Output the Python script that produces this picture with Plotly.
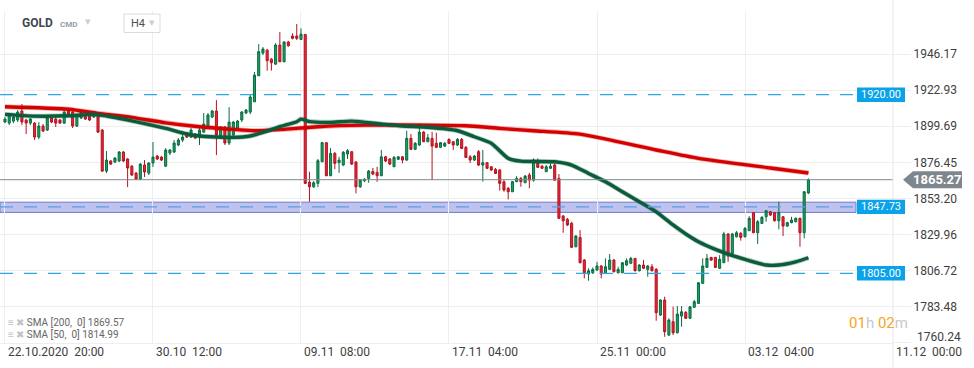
import plotly.graph_objects as go

# ---------------- data ----------------
opens = [1902.4, 1901.7, 1903.0, 1903.7, 1909.5, 1903.7, 1901.7, 1901.7, 1892.7, 1899.8,
         1897.2, 1905.0, 1904.3, 1903.7, 1901.7, 1909.5, 1908.8, 1899.8, 1905.0, 1906.9,
         1906.9, 1905.6, 1906.2, 1897.2, 1870.8, 1877.3, 1876.6, 1877.3, 1883.1, 1878.6,
         1874.0, 1869.5, 1865.7, 1874.7, 1869.5, 1876.0, 1880.5, 1879.8, 1874.0, 1882.4,
         1883.1, 1887.6, 1890.8, 1895.3, 1892.7, 1894.7, 1892.7, 1895.9, 1899.2, 1905.6,
         1909.5, 1893.4, 1899.2, 1888.9, 1894.0, 1898.5, 1903.7, 1908.2, 1908.8, 1915.4,
         1932.2, 1946.8, 1948.7, 1942.9, 1939.7, 1952.0, 1941.2, 1953.9, 1957.8, 1957.8,
         1955.6, 1958.8, 1863.7, 1860.7, 1862.9, 1876.8, 1889.1, 1867.8, 1882.2, 1876.2,
         1874.7, 1881.8, 1883.3, 1876.6, 1860.7, 1864.6, 1866.1, 1870.6, 1870.0, 1867.8,
         1880.0, 1878.6, 1873.6, 1878.4, 1880.0, 1877.9, 1891.9, 1884.8, 1887.6, 1895.9,
         1889.7, 1891.9, 1888.7, 1886.1, 1886.9, 1891.2, 1889.7, 1887.6, 1891.2, 1886.1,
         1880.0, 1877.9, 1883.3, 1874.7, 1876.2, 1873.6, 1871.9, 1871.5, 1863.9, 1859.7,
         1857.5, 1864.0, 1866.1, 1863.3, 1868.3, 1865.0, 1876.2, 1874.0, 1870.4, 1872.6,
         1874.7, 1866.1, 1841.9, 1839.7, 1837.2, 1822.1, 1828.1, 1813.5, 1804.5, 1805.3,
         1807.1, 1809.7, 1805.0, 1807.5, 1813.5, 1805.3, 1805.3, 1810.3, 1811.4, 1814.6,
         1806.6, 1810.3, 1807.5, 1809.2, 1807.5, 1778.1, 1787.8, 1765.2, 1773.8, 1766.7,
         1777.5, 1779.8, 1776.0, 1783.1, 1785.6, 1798.5, 1808.8, 1815.2, 1815.2, 1808.2,
         1811.8, 1830.3, 1817.8, 1828.5, 1830.7, 1828.5, 1832.4, 1844.0, 1831.1, 1837.1,
         1841.4, 1844.6, 1844.0, 1838.8, 1841.4, 1835.4, 1837.6, 1838.2, 1840.4, 1831.1,
         1856.7]
highs = [1905.6, 1908.2, 1906.9, 1910.1, 1914.0, 1904.3, 1905.0, 1902.4, 1902.4, 1901.1,
         1906.2, 1905.6, 1906.2, 1904.3, 1910.1, 1910.1, 1909.5, 1907.5, 1910.1, 1907.5,
         1908.2, 1908.8, 1906.9, 1897.9, 1883.7, 1877.9, 1879.8, 1883.7, 1883.7, 1879.2,
         1874.7, 1870.2, 1876.0, 1877.9, 1876.6, 1889.5, 1881.1, 1880.5, 1885.6, 1885.0,
         1890.8, 1892.1, 1894.0, 1895.9, 1898.5, 1895.3, 1898.5, 1908.2, 1908.2, 1910.1,
         1916.5, 1899.8, 1899.8, 1912.0, 1903.0, 1903.7, 1909.5, 1910.8, 1919.8, 1934.6,
         1952.6, 1950.7, 1949.4, 1943.6, 1953.2, 1960.3, 1954.5, 1954.7, 1959.5, 1965.5,
         1962.7, 1959.0, 1870.4, 1864.4, 1878.6, 1889.7, 1889.5, 1885.6, 1883.1, 1880.0,
         1883.7, 1885.0, 1883.7, 1877.3, 1865.7, 1866.3, 1871.5, 1872.8, 1873.6, 1884.4,
         1880.5, 1879.2, 1880.5, 1880.5, 1880.5, 1896.8, 1894.7, 1889.5, 1901.5, 1896.6,
         1894.7, 1896.1, 1895.5, 1889.5, 1889.5, 1891.9, 1890.1, 1892.1, 1892.1, 1886.9,
         1881.1, 1881.1, 1884.4, 1884.4, 1876.6, 1874.0, 1872.8, 1872.1, 1865.0, 1860.5,
         1864.4, 1867.6, 1867.0, 1868.3, 1869.7, 1879.0, 1879.0, 1874.7, 1874.7, 1875.8,
         1875.8, 1868.9, 1842.5, 1840.6, 1838.2, 1829.6, 1832.8, 1814.2, 1808.2, 1808.8,
         1812.4, 1810.3, 1814.6, 1817.4, 1814.2, 1809.2, 1812.2, 1814.6, 1815.6, 1814.8,
         1810.9, 1813.5, 1810.3, 1810.9, 1808.4, 1788.2, 1789.9, 1776.0, 1783.5, 1783.9,
         1783.9, 1780.7, 1783.9, 1787.8, 1799.4, 1814.6, 1817.4, 1815.6, 1815.6, 1816.7,
         1831.7, 1830.9, 1830.9, 1832.2, 1831.6, 1834.8, 1841.8, 1844.4, 1839.3, 1841.8,
         1845.7, 1845.1, 1844.4, 1851.1, 1841.9, 1838.2, 1841.4, 1841.0, 1840.8, 1857.9,
         1866.1]
lows = [1901.7, 1900.4, 1901.7, 1902.4, 1900.4, 1894.7, 1900.4, 1890.8, 1891.4, 1895.9,
        1896.6, 1901.7, 1899.2, 1901.1, 1901.1, 1906.9, 1898.5, 1899.2, 1904.3, 1903.7,
        1903.0, 1905.0, 1895.3, 1870.2, 1869.5, 1874.7, 1876.0, 1876.6, 1876.6, 1860.5,
        1867.6, 1865.0, 1865.0, 1867.0, 1868.3, 1873.4, 1877.9, 1877.3, 1873.4, 1881.1,
        1882.4, 1886.9, 1889.5, 1892.1, 1892.1, 1891.4, 1887.6, 1895.3, 1898.5, 1905.0,
        1881.1, 1892.7, 1887.6, 1887.6, 1892.7, 1897.9, 1902.4, 1907.5, 1907.5, 1915.3,
        1932.0, 1945.5, 1935.5, 1935.5, 1939.1, 1941.0, 1941.0, 1950.9, 1955.6, 1955.2,
        1955.2, 1862.5, 1851.1, 1859.9, 1860.5, 1876.6, 1867.6, 1867.6, 1872.1, 1869.7,
        1874.0, 1878.6, 1874.7, 1856.5, 1859.9, 1863.7, 1863.3, 1868.2, 1863.9, 1867.6,
        1876.6, 1874.7, 1873.4, 1877.9, 1875.8, 1877.3, 1884.4, 1884.4, 1886.9, 1889.5,
        1889.5, 1865.0, 1885.6, 1885.6, 1886.3, 1888.2, 1884.4, 1886.9, 1885.0, 1879.2,
        1876.0, 1877.3, 1874.0, 1864.0, 1872.1, 1870.8, 1868.9, 1858.2, 1857.5, 1852.6,
        1857.3, 1863.7, 1860.7, 1863.1, 1859.7, 1864.0, 1872.8, 1872.1, 1870.2, 1872.1,
        1864.4, 1839.9, 1831.1, 1835.4, 1821.3, 1821.7, 1811.4, 1801.7, 1800.2, 1804.5,
        1806.4, 1801.7, 1804.5, 1807.1, 1805.6, 1804.9, 1805.1, 1809.7, 1810.9, 1806.2,
        1806.2, 1807.7, 1802.8, 1806.2, 1774.4, 1777.5, 1764.1, 1764.6, 1765.2, 1766.3,
        1770.6, 1775.5, 1775.5, 1782.6, 1785.2, 1798.1, 1808.4, 1812.9, 1808.4, 1807.7,
        1811.6, 1812.4, 1817.4, 1828.1, 1826.0, 1828.1, 1832.2, 1830.9, 1823.8, 1836.7,
        1838.2, 1841.9, 1838.4, 1833.3, 1829.0, 1834.8, 1837.2, 1837.8, 1822.1, 1827.5,
        1856.0]
closes = [1904.3, 1906.9, 1905.6, 1908.8, 1902.4, 1901.7, 1904.3, 1892.7, 1899.8, 1896.6,
          1905.0, 1902.4, 1901.7, 1901.7, 1908.8, 1907.5, 1899.8, 1906.9, 1908.8, 1904.3,
          1903.7, 1908.2, 1895.9, 1870.8, 1877.9, 1875.3, 1879.2, 1883.1, 1877.3, 1872.8,
          1868.3, 1865.7, 1875.3, 1870.2, 1876.0, 1879.8, 1878.6, 1877.9, 1884.4, 1884.4,
          1888.9, 1890.8, 1892.7, 1892.7, 1897.2, 1892.1, 1897.2, 1901.1, 1906.9, 1909.5,
          1894.0, 1899.2, 1888.9, 1902.4, 1902.4, 1903.0, 1908.8, 1910.1, 1918.5, 1932.6,
          1947.7, 1949.4, 1941.9, 1940.6, 1952.0, 1941.2, 1953.9, 1951.5, 1956.3, 1956.3,
          1959.0, 1862.9, 1860.7, 1863.3, 1877.5, 1889.1, 1867.8, 1882.2, 1875.8, 1877.9,
          1882.9, 1883.9, 1875.3, 1860.7, 1865.0, 1865.5, 1870.8, 1868.9, 1867.8, 1880.0,
          1877.3, 1875.3, 1879.6, 1880.0, 1877.9, 1891.9, 1884.8, 1888.7, 1895.9, 1889.7,
          1892.3, 1886.9, 1886.1, 1889.1, 1888.7, 1888.7, 1887.6, 1891.2, 1885.4, 1879.6,
          1877.9, 1880.5, 1874.7, 1876.2, 1872.6, 1871.5, 1869.3, 1862.9, 1858.6, 1857.5,
          1864.0, 1866.1, 1864.0, 1867.6, 1865.0, 1877.9, 1873.2, 1872.6, 1873.6, 1874.0,
          1865.0, 1840.4, 1838.8, 1836.1, 1821.7, 1829.0, 1811.8, 1805.0, 1806.6, 1807.5,
          1809.7, 1804.5, 1809.2, 1813.5, 1806.0, 1807.5, 1811.8, 1813.1, 1814.6, 1806.6,
          1810.3, 1808.2, 1809.7, 1806.6, 1779.6, 1787.8, 1767.4, 1774.9, 1766.7, 1778.7,
          1780.2, 1776.0, 1783.4, 1786.7, 1798.9, 1809.7, 1814.6, 1813.5, 1808.8, 1814.0,
          1830.3, 1816.1, 1830.3, 1831.1, 1828.1, 1833.9, 1840.4, 1831.1, 1838.2, 1841.0,
          1845.3, 1842.5, 1838.8, 1844.0, 1835.4, 1837.6, 1839.3, 1840.4, 1831.1, 1857.5,
          1865.27]

sma200_idx = [0, 15, 22, 30, 38, 46, 54, 59, 66, 74, 85, 100, 109, 117, 125, 136, 154, 164, 181, 190]
sma200_val = [1912.2, 1910.6, 1908.0, 1905.4, 1901.9, 1899.4, 1897.7, 1896.8, 1897.7, 1899.4,
              1900.4, 1900.4, 1900.0, 1898.3, 1896.8, 1894.6, 1884.4, 1879.0, 1872.8, 1869.57]
sma50_idx = [0, 7, 15, 21, 25, 30, 38, 43, 46, 54, 58, 62, 65, 69, 70, 72, 77, 82, 89, 94,
             100, 107, 111, 115, 119, 122, 130, 134, 138, 142, 146, 150, 154, 158, 161, 164,
             168, 171, 175, 180, 183, 187, 190]
sma50_val = [1907.3, 1906.2, 1906.4, 1907.3, 1905.8, 1903.2, 1898.3, 1894.7, 1893.4, 1892.5,
             1893.4, 1896.6, 1899.4, 1902.6, 1904.3, 1902.7, 1902.2, 1903.0, 1901.1, 1899.8,
             1899.0, 1896.8, 1892.9, 1888.7, 1879.0, 1877.2, 1876.8, 1874.7, 1869.3, 1863.9,
             1857.5, 1851.1, 1844.6, 1836.1, 1830.3, 1825.3, 1820.4, 1817.4, 1814.0, 1810.3,
             1810.3, 1812.4, 1814.99]

y_tick_vals = [1946.17, 1922.93, 1899.69, 1876.45, 1853.20, 1829.96, 1806.72, 1783.48, 1760.24]
y_tick_text = ["1946.17", "1922.93", "1899.69", "1876.45", "1853.20", "1829.96", "1806.72", "1783.48", "1760.24"]
x_tick_idx = [0, 35, 70, 105, 140, 175, 210]
x_tick_text = ["22.10.2020\u00a0 20:00", "30.10\u00a0 12:00", "09.11\u00a0 08:00", "17.11\u00a0 04:00",
               "25.11\u00a0 00:00", "03.12\u00a0 04:00", "11.12\u00a0 00:00"]
level_lines = [1920.00, 1805.00]
zone_level = 1847.73
zone_low, zone_high = 1844.2, 1850.8
last_price = 1865.27

# ---------------- layout geometry ----------------
W, H = 974, 368
ML, MR, MT, MB = 0, 81, 11, 25
PW, PH = W - ML - MR, H - MT - MB
X_RANGE = [-1.18, 210.0]
Y_RANGE = [1760.1, 1973.9]


def xp(px):
    return (px - ML) / PW


def yp(py):
    return (MT + PH - py) / PH


def yv(v):
    return (v - Y_RANGE[0]) / (Y_RANGE[1] - Y_RANGE[0])


FONT = "Roboto, 'Open Sans', Arial, sans-serif"

fig = go.Figure()
fig.add_trace(go.Candlestick(
    x=list(range(len(opens))), open=opens, high=highs, low=lows, close=closes,
    increasing=dict(line=dict(color="#0b6b40", width=1), fillcolor="#17a062"),
    decreasing=dict(line=dict(color="#b5121f", width=1), fillcolor="#e3283a"),
    whiskerwidth=0, showlegend=False, hoverinfo="skip"))

fig.add_trace(go.Scatter(x=sma200_idx, y=sma200_val, mode="lines", hoverinfo="skip", showlegend=False,
                         line=dict(color="rgba(214,0,0,0.3)", width=5, shape="spline", smoothing=0.6)))
fig.add_trace(go.Scatter(x=sma200_idx, y=sma200_val, mode="lines", hoverinfo="skip", showlegend=False,
                         line=dict(color="#d50000", width=3.4, shape="spline", smoothing=0.6)))
fig.add_trace(go.Scatter(x=sma50_idx, y=sma50_val, mode="lines", hoverinfo="skip", showlegend=False,
                         line=dict(color="rgba(10,92,58,0.3)", width=5, shape="spline", smoothing=0.6)))
fig.add_trace(go.Scatter(x=sma50_idx, y=sma50_val, mode="lines", hoverinfo="skip", showlegend=False,
                         line=dict(color="#0a5c3a", width=3.4, shape="spline", smoothing=0.6)))

shapes = []
# zone band
shapes.append(dict(type="rect", xref="paper", yref="y", x0=0, x1=xp(856), y0=zone_low, y1=zone_high,
                   fillcolor="rgba(110,120,212,0.45)", line=dict(color="#6f78d2", width=1), layer="below"))
shapes.append(dict(type="line", xref="paper", yref="y", x0=0, x1=xp(856), y0=zone_level, y1=zone_level,
                   line=dict(color="#5c9fe2", width=1.3, dash="13px,11px"), layer="above"))
for lv in level_lines:
    shapes.append(dict(type="line", xref="paper", yref="y", x0=0, x1=xp(857), y0=lv, y1=lv,
                       line=dict(color="#2ba8e8", width=1.3, dash="13px,11px"), layer="above"))
# current price line
shapes.append(dict(type="line", xref="paper", yref="y", x0=0, x1=1, y0=last_price, y1=last_price,
                   line=dict(color="#7d898f", width=1), layer="above"))
# right border line
shapes.append(dict(type="line", xref="paper", yref="paper", x0=1, x1=1, y0=yp(H), y1=yp(0),
                   line=dict(color="#e6e6e6", width=1), layer="above"))
# label boxes for levels
for lv in level_lines + [zone_level]:
    c = yv(lv)
    shapes.append(dict(type="rect", xref="paper", yref="paper", x0=xp(857), x1=xp(905),
                       y0=c - 7.2 / PH, y1=c + 7.2 / PH, fillcolor="#0aa2e8", line=dict(width=0), layer="above"))
# current price tag
c = yv(last_price)
hh = 8.5 / PH
path = (f"M {xp(903)},{c} L {xp(913)},{c + hh} L {xp(962)},{c + hh} "
        f"L {xp(962)},{c - hh} L {xp(913)},{c - hh} Z")
shapes.append(dict(type="path", xref="paper", yref="paper", path=path,
                   fillcolor="#7d878d", line=dict(width=0), layer="above"))
# H4 selector box
shapes.append(dict(type="rect", xref="paper", yref="paper", x0=xp(124), x1=xp(160), y0=yp(32.5), y1=yp(14),
                   fillcolor="white", line=dict(color="#dcdcdc", width=1), layer="above"))

ann = []
for lv in level_lines + [zone_level]:
    ann.append(dict(xref="paper", yref="paper", x=xp(881), y=yv(lv), text=f"{lv:.2f}", showarrow=False,
                    font=dict(family=FONT, size=11, color="white"), xanchor="center", yanchor="middle"))
ann.append(dict(xref="paper", yref="paper", x=xp(937.5), y=yv(last_price), text=f"<b>{last_price:.2f}</b>",
                showarrow=False, font=dict(family=FONT, size=13, color="white"), xanchor="center", yanchor="middle"))
# lowest y label (shifted up like the original)
ann.append(dict(xref="paper", yref="paper", x=xp(915), y=yp(337), text=y_tick_text[-1], showarrow=False,
                font=dict(family=FONT, size=12, color="#404040"), xanchor="left", yanchor="middle"))
# x labels
for i, t in zip(x_tick_idx, x_tick_text):
    ann.append(dict(xref="x", yref="paper", x=i, y=yp(352.5), text=t, showarrow=False, xshift=1,
                    font=dict(family=FONT, size=12, color="#404040"), xanchor="left", yanchor="middle"))
# indicator legend
icons = "<span style='color:#c2c2c2'>\u2261 \u2716</span> "
ann.append(dict(xref="paper", yref="paper", x=xp(6), y=yp(322.5),
                text=icons + "SMA [200,\u00a0 0] 1869.57", showarrow=False,
                font=dict(family=FONT, size=10, color="#666666"), xanchor="left", yanchor="middle"))
ann.append(dict(xref="paper", yref="paper", x=xp(6), y=yp(334),
                text=icons + "SMA [50,\u00a0 0] 1814.99", showarrow=False,
                font=dict(family=FONT, size=10, color="#666666"), xanchor="left", yanchor="middle"))
# countdown
ann.append(dict(xref="paper", yref="paper", x=xp(847), y=yp(323),
                text="<span style='color:#f5a623'>01</span><span style='color:#c9c9c9'>h</span> "
                     "<span style='color:#f5a623'>02</span><span style='color:#c9c9c9'>m</span>",
                showarrow=False, font=dict(family=FONT, size=15), xanchor="left", yanchor="middle"))
# header
ann.append(dict(xref="paper", yref="paper", x=xp(20), y=yp(23), text="<b>GOLD</b>", showarrow=False,
                font=dict(family=FONT, size=12, color="#3e4852"), xanchor="left", yanchor="middle"))
ann.append(dict(xref="paper", yref="paper", x=xp(58), y=yp(24), text="<b>CMD</b>", showarrow=False,
                font=dict(family=FONT, size=8, color="#8e9fb0"), xanchor="left", yanchor="middle"))
ann.append(dict(xref="paper", yref="paper", x=xp(83), y=yp(21.5), text="\u25be", showarrow=False,
                font=dict(family=FONT, size=11, color="#cfcfcf"), xanchor="left", yanchor="middle"))
ann.append(dict(xref="paper", yref="paper", x=xp(129), y=yp(23.5), text="H4", showarrow=False,
                font=dict(family=FONT, size=11, color="#505050"), xanchor="left", yanchor="middle"))
ann.append(dict(xref="paper", yref="paper", x=xp(147), y=yp(22.5), text="\u25be", showarrow=False,
                font=dict(family=FONT, size=11, color="#cfcfcf"), xanchor="left", yanchor="middle"))

fig.update_layout(
    width=W, height=H, margin=dict(l=ML, r=MR, t=MT, b=MB, pad=0),
    paper_bgcolor="white", plot_bgcolor="white", showlegend=False,
    font=dict(family=FONT, size=12, color="#404040"),
    xaxis=dict(range=X_RANGE, rangeslider=dict(visible=False), tickvals=x_tick_idx, showticklabels=False,
               showgrid=True, gridcolor="#eeeeee", gridwidth=1, zeroline=False, ticks="",
               showline=True, linecolor="#eeeeee", fixedrange=True),
    yaxis=dict(range=Y_RANGE, side="right", tickvals=y_tick_vals, ticktext=y_tick_text[:-1] + [""],
               showgrid=True, gridcolor="#eeeeee", gridwidth=1, zeroline=False,
               ticks="outside", ticklen=17, tickcolor="#eeeeee", tickwidth=1,
               tickfont=dict(family=FONT, size=12, color="#404040"), showline=False, fixedrange=True),
    shapes=shapes, annotations=ann,
)

fig.write_html("out.html", config={"displayModeBar": False},
               post_script="document.body.style.margin='0';document.body.style.padding='0';"
                           "document.body.style.overflow='hidden';")
